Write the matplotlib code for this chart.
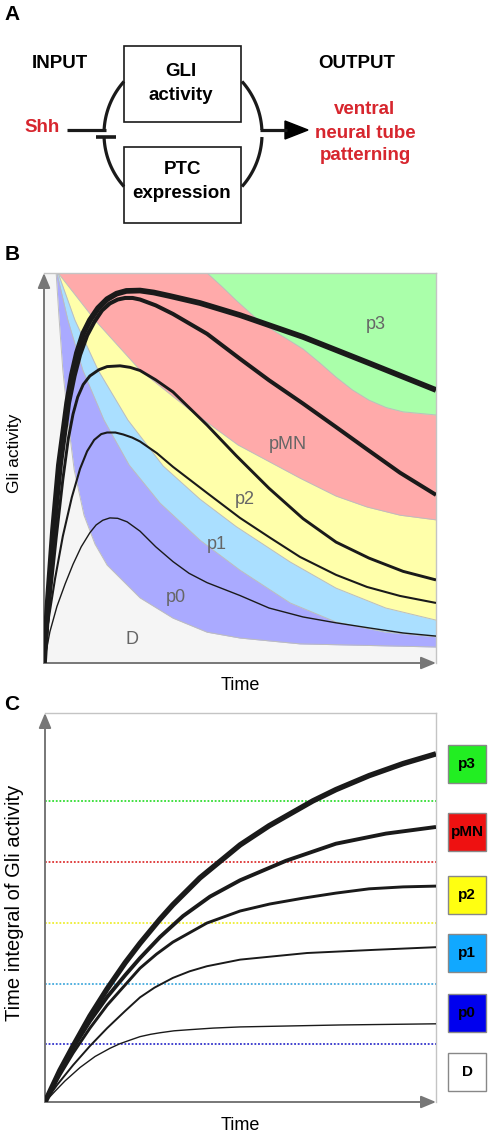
import numpy as np
import matplotlib
matplotlib.use('Agg')
import matplotlib.pyplot as plt
from matplotlib.patches import Rectangle, Polygon

plt.rcParams['font.family'] = ['Liberation Sans', 'DejaVu Sans']

# --- panel B: domain boundaries (time, Gli activity) ---
bd_p0_t = [3.1, 3.8, 4.8, 6.1, 7.7, 10.2, 13.0, 16.1, 24.5, 32.9, 41.6, 50.0, 65.3, 100]
bd_p0_g = [100, 89.0, 75.1, 62.3, 49.5, 37.9, 30.5, 25.1, 16.7, 11.5, 7.9, 6.4, 4.9, 4.1]
bp0_p1_t = [3.3, 6.1, 9.9, 15.3, 21.7, 29.6, 39.8, 50.0, 62.8, 74.5, 87.2, 100]
bp0_p1_g = [100, 87.9, 75.1, 62.3, 50.8, 41.0, 31.5, 23.8, 15.4, 10.5, 7.9, 6.7]
bp1_p2_t = [3.6, 7.9, 13.8, 21.4, 30.4, 39.8, 49.0, 62.8, 74.5, 87.2, 100]
bp1_p2_g = [100, 87.9, 75.1, 62.3, 50.5, 42.0, 35.0, 25.9, 19.2, 14.1, 11.0]
bp2_pmn_t = [3.6, 13.0, 24.5, 37.2, 49.5, 65.3, 74.5, 82.4, 90.8, 100]
bp2_pmn_g = [100, 87.9, 75.1, 64.9, 55.9, 47.4, 42.8, 40.0, 37.9, 36.7]
bpmn_p3_t = [41.6, 45.4, 49.0, 55.1, 60.5, 66.1, 70.3, 74.5, 78.7, 82.9, 87.3, 91.6, 100]
bpmn_p3_g = [100, 96.5, 93.0, 87.5, 84.0, 80.5, 77.0, 73.3, 70.0, 67.4, 65.5, 64.4, 63.6]

domain_names = ['D', 'p0', 'p1', 'p2', 'pMN', 'p3']
domain_fill = ['#f5f5f5', '#aaaaff', '#aadfff', '#ffffaa', '#ffaaaa', '#aaffaa']

# --- panel B: Gli activity for five Shh levels ---
gli1_t = [0, 1.0, 2.3, 3.8, 5.9, 7.1, 8.4, 10.0, 11.7, 13.8, 16.1, 18.5, 21.0, 24.5, 28.0,
          32.1, 39.8, 50.0, 66.1, 82.9, 100]
gli1_g = [0, 16.2, 34.1, 50.8, 66.7, 73.8, 79.5, 84.5, 87.9, 91.0, 93.3, 94.7, 95.4, 95.5, 95.0,
          94.1, 92.3, 89.2, 83.6, 76.9, 70.0]
gli2_t = [0, 1.3, 2.6, 4.3, 6.4, 7.8, 9.2, 11.0, 12.8, 14.8, 16.8, 18.8, 20.7, 22.6, 24.5, 28.5,
          32.9, 41.6, 50.0, 57.4, 66.1, 74.5, 82.4, 90.8, 100]
gli2_g = [0, 17.5, 33.5, 50.8, 66.7, 73.6, 79.0, 84.0, 87.4, 90.4, 92.2, 93.2, 93.6, 93.6, 93.2, 91.7,
          89.5, 84.4, 78.0, 72.5, 66.5, 60.5, 54.8, 48.8, 43.1]
gli3_t = [0, 1.5, 3.1, 4.8, 6.2, 7.4, 8.6, 10.0, 11.7, 14.0, 16.1, 19.4, 22.0, 24.5, 28.5, 32.9,
          41.6, 49.0, 57.4, 66.1, 74.5, 82.9, 91.6, 100]
gli3_g = [0, 16.5, 32.0, 47.0, 57.5, 63.8, 68.2, 71.4, 73.6, 75.2, 76.0, 76.2, 75.8, 75.0, 72.6, 69.5,
          61.0, 53.2, 44.8, 37.0, 31.0, 26.9, 23.5, 21.3]
gli4_t = [0, 1.0, 2.8, 4.8, 7.1, 9.2, 11.0, 12.8, 14.6, 16.1, 18.2, 20.2, 22.5, 24.5, 28.8, 32.9,
          41.6, 50.0, 57.7, 65.3, 74.5, 82.4, 90.8, 100]
gli4_g = [0, 10.0, 21.5, 32.5, 42.5, 49.8, 54.3, 57.2, 58.7, 59.1, 59.1, 58.6, 57.8, 56.8, 53.8, 50.3,
          43.6, 37.2, 32.1, 27.2, 22.6, 19.5, 17.2, 15.4]
gli5_t = [0, 1.5, 3.3, 5.4, 7.4, 9.5, 11.7, 13.3, 15.0, 16.8, 18.8, 21.2, 24.5, 28.5, 32.9, 37.0,
          41.6, 50.0, 57.4, 66.1, 74.5, 82.9, 91.6, 100]
gli5_g = [0, 8.0, 14.5, 20.3, 25.3, 29.8, 33.4, 35.4, 36.6, 37.2, 37.1, 36.2, 33.8, 29.8, 26.0, 23.0,
          20.6, 17.3, 14.1, 11.8, 10.3, 9.0, 7.7, 6.9]

# --- panel C: time integral of Gli activity ---
int1_t = [0, 3.8, 7.2, 11.5, 15.9, 20.5, 24.3, 29.4, 32.7, 39.6, 49.9, 57.3, 68.5, 74.4, 82.9, 91.6, 100]
int1_v = [0, 8.1, 14.4, 22.1, 29.1, 35.8, 40.8, 47.0, 50.7, 57.6, 66.1, 71.0, 77.4, 80.3, 83.9, 87.0, 89.5]
int2_t = [0, 3.8, 7.2, 11.5, 15.9, 20.5, 24.3, 29.4, 35.3, 42.2, 49.9, 61.6, 74.4, 87.2, 100]
int2_v = [0, 7.7, 13.9, 20.8, 27.0, 32.6, 37.0, 42.4, 47.8, 52.8, 57.0, 62.0, 66.4, 69.0, 70.7]
int3_t = [0, 3.8, 7.2, 11.5, 15.9, 20.5, 24.3, 28.5, 32.7, 41.4, 49.9, 57.5, 66.0, 74.4, 82.9, 91.6, 100]
int3_v = [0, 6.9, 12.6, 19.0, 24.9, 30.1, 34.4, 38.0, 41.1, 46.0, 49.1, 50.9, 52.4, 53.7, 54.8, 55.3, 55.5]
int4_t = [0, 3.1, 7.2, 11.5, 15.9, 20.5, 24.3, 28.0, 32.7, 37.0, 41.4, 49.9, 67.0, 83.9, 100]
int4_v = [0, 4.4, 9.5, 14.4, 19.0, 23.4, 26.9, 29.4, 31.9, 33.6, 34.9, 36.6, 38.3, 39.1, 39.8]
int5_t = [0, 2.6, 5.1, 9.0, 12.8, 16.6, 19.2, 22.0, 24.3, 27.0, 29.4, 33.0, 37.1, 43.0, 49.9, 75.4, 100]
int5_v = [0, 2.8, 5.4, 8.9, 11.7, 13.8, 15.0, 16.0, 16.8, 17.4, 17.8, 18.3, 18.6, 19.0, 19.3, 19.8, 20.1]

thresholds = [14.9, 30.3, 46.0, 61.7, 77.4]   # p0, p1, p2, pMN, p3
threshold_colors = ['#3333cc', '#44aadd', '#eeee33', '#dd3333', '#33dd33']
key_names = ['p3', 'pMN', 'p2', 'p1', 'p0', 'D']
key_colors = ['#22ee22', '#ee1111', '#ffff11', '#11a8ff', '#0000ee', '#ffffff']

W, H = 490, 1142
fig = plt.figure(figsize=(W / 100, H / 100), dpi=100)
RED = '#d7262e'
INK = '#1a1a1a'


def axes_px(left, top, right, bottom):
    return fig.add_axes([left / W, 1 - bottom / H, (right - left) / W, (bottom - top) / H])


def style_frame(ax):
    ax.set_xlim(0, 100)
    ax.set_ylim(0, 100)
    ax.set_xticks([])
    ax.set_yticks([])
    ax.spines['left'].set_visible(False)
    ax.spines['bottom'].set_visible(False)
    for s in ['top', 'right']:
        ax.spines[s].set_color('#c4c4c4')
        ax.spines[s].set_linewidth(1.0)
    kw = dict(arrowstyle='-|>,head_length=0.6,head_width=0.25', color='#777777',
              lw=1.4, mutation_scale=15, shrinkA=0, shrinkB=0)
    ax.annotate('', xy=(0, 1), xytext=(0, 0), xycoords='axes fraction',
                arrowprops=kw, annotation_clip=False, zorder=5)
    ax.annotate('', xy=(1, 0), xytext=(0, 0), xycoords='axes fraction',
                arrowprops=kw, annotation_clip=False, zorder=5)


def ftext(x, y, s, **kw):
    fig.text(x / W, 1 - y / H, s, ha='center', va='center', **kw)


# ---------------- Panel A: circuit diagram ----------------
ax_a = fig.add_axes([0, 1 - 240 / H, 1, 240 / H])
ax_a.set_xlim(0, W)
ax_a.set_ylim(240, 0)
ax_a.axis('off')

for y0 in (46, 147):
    ax_a.add_patch(Rectangle((124, y0), 117, 76, fill=False, ec=INK, lw=1.2))

cx, cy, r = 183, 134, 79
for a0, a1 in [(138.3, 177.1), (182.2, 221.7), (2.9, 41.7), (-41.7, -2.2)]:
    th = np.radians(np.linspace(a0, a1, 60))
    ax_a.plot(cx + r * np.cos(th), cy - r * np.sin(th), color=INK, lw=2.3,
              solid_capstyle='butt')

ax_a.plot([67, 106], [130, 130], color=INK, lw=2.3, solid_capstyle='butt')
ax_a.plot([96, 116], [137, 137], color=INK, lw=2.6, solid_capstyle='butt')
ax_a.plot([260, 287], [130, 130], color=INK, lw=2.3, solid_capstyle='butt')
ax_a.add_patch(Polygon([(285, 121), (285, 139), (308, 130)], closed=True, color='black'))

ftext(12, 15, 'A', fontsize=15, fontweight='bold')
ftext(60, 63, 'INPUT', fontsize=13.5, fontweight='bold')
ftext(357, 63, 'OUTPUT', fontsize=13.5, fontweight='bold')
ftext(181, 71, 'GLI', fontsize=13.5, fontweight='bold')
ftext(181, 95, 'activity', fontsize=13.5, fontweight='bold')
ftext(182, 170, 'PTC', fontsize=13.5, fontweight='bold')
ftext(182, 193, 'expression', fontsize=13.5, fontweight='bold')
ftext(42, 128, 'Shh', fontsize=13.5, fontweight='bold', color=RED)
ftext(365, 110, 'ventral', fontsize=13.5, fontweight='bold', color=RED)
ftext(365, 133, 'neural tube', fontsize=13.5, fontweight='bold', color=RED)
ftext(365, 156, 'patterning', fontsize=13.5, fontweight='bold', color=RED)

# ---------------- Panel B: Gli activity over time ----------------
ax_b = axes_px(44, 273, 436, 663)
ax_b.set_facecolor(domain_fill[0])
style_frame(ax_b)

bounds = [(bd_p0_t, bd_p0_g), (bp0_p1_t, bp0_p1_g), (bp1_p2_t, bp1_p2_g),
          (bp2_pmn_t, bp2_pmn_g), (bpmn_p3_t, bpmn_p3_g)]
for (bt, bg), col in zip(bounds, domain_fill[1:]):
    ax_b.fill_between(bt, bg, 100, color=col, lw=0, zorder=1)
    ax_b.plot(bt, bg, color='#bdbdbd', lw=0.7, zorder=2)

gli_curves = [(gli1_t, gli1_g), (gli2_t, gli2_g), (gli3_t, gli3_g), (gli4_t, gli4_g), (gli5_t, gli5_g)]
widths = [4.1, 2.9, 2.1, 1.5, 1.0]
for (ct, cg), w in zip(gli_curves, widths):
    ax_b.plot(ct, cg, color=INK, lw=w, zorder=6, solid_joinstyle='round', solid_capstyle='butt')

label_pos = {'D': (22.4, 5.9), 'p0': (33.7, 16.9), 'p1': (44.1, 30.3),
             'p2': (51.3, 41.8), 'pMN': (62.2, 55.9), 'p3': (84.7, 86.7)}
for name in domain_names:
    x, y = label_pos[name]
    ax_b.text(x, y, name, fontsize=13, color='#666666', ha='center', va='center', zorder=7)

ftext(12, 255, 'B', fontsize=15, fontweight='bold')
ftext(15, 453, 'Gli activity', fontsize=12.5, rotation=90)
ftext(240, 685, 'Time', fontsize=13)

# ---------------- Panel C: integrated Gli activity ----------------
ax_c = axes_px(45, 713, 436, 1102)
style_frame(ax_c)

for th, col in zip(thresholds, threshold_colors):
    ax_c.axhline(th, color=col, lw=1.3, linestyle=(0, (1, 1)), zorder=2)

int_curves = [(int1_t, int1_v), (int2_t, int2_v), (int3_t, int3_v), (int4_t, int4_v), (int5_t, int5_v)]
widths_c = [3.9, 2.8, 2.1, 1.4, 1.0]
for (ct, cv), w in zip(int_curves, widths_c):
    ax_c.plot(ct, cv, color=INK, lw=w, zorder=6, solid_joinstyle='round', solid_capstyle='butt')

key_y = [87.0, 69.4, 53.2, 38.4, 22.9, 7.7]
for name, col, yc in zip(key_names, key_colors, key_y):
    ax_c.add_patch(Rectangle((103.1, yc - 4.9), 9.7, 9.8, facecolor=col, edgecolor='#888888',
                             lw=1.0, clip_on=False))
    ax_c.text(107.95, yc, name, fontsize=11, fontweight='bold', ha='center', va='center',
              clip_on=False)

ftext(12, 704, 'C', fontsize=15, fontweight='bold')
ftext(15, 903, 'Time integral of Gli activity', fontsize=14.5, rotation=90)
ftext(240, 1125, 'Time', fontsize=13)

fig.savefig('out.png', dpi=100)
